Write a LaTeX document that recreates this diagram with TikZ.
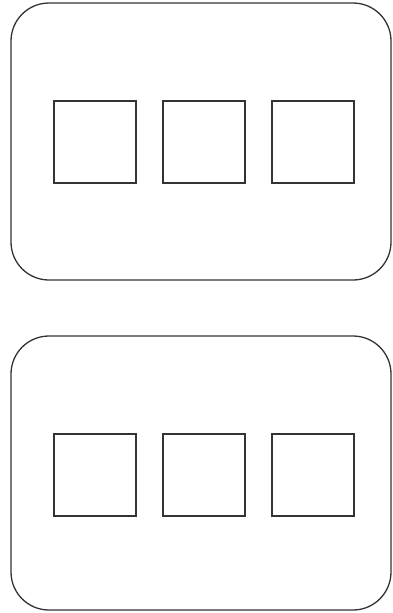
\documentclass[tikz,border=0pt]{standalone}
\begin{document}
\begin{tikzpicture}[x=1pt,y=-1pt,
  panel/.style={draw=black!80, line width=1.3pt, rounded corners=38pt, inner sep=0pt, minimum width=380pt},
  cell/.style={draw=black!80, line width=1.1pt, inner sep=0pt, minimum width=82pt, minimum height=82pt}]
\useasboundingbox (0,0) rectangle (393,613);
\node[panel, minimum height=277pt] (p1) at (201,141.5) {};
\node[panel, minimum height=274pt] (p2) at (201,473) {};
\node[cell] (a1) at (95,142) {};
\node[cell] (a2) at (204,142) {};
\node[cell] (a3) at (313,142) {};
\node[cell] (b1) at (95,475) {};
\node[cell] (b2) at (204,475) {};
\node[cell] (b3) at (313,475) {};
\end{tikzpicture}
\end{document}
